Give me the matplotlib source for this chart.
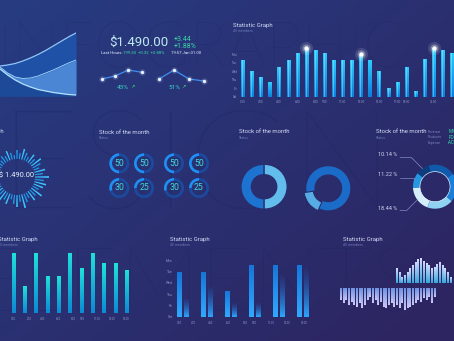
import numpy as np
import matplotlib
matplotlib.use("Agg")
import matplotlib.pyplot as plt
from matplotlib.colors import to_rgb

plt.rcParams["font.family"] = ["Roboto", "DejaVu Sans"]

W, H = 454, 341

# layered area chart, heights above the baseline
area_top = [30, 31, 32.5, 35, 38, 41.5, 45.5, 50, 54.5, 59, 63]
area_mid = [29, 23, 19, 17.5, 18, 20, 23, 26, 29.5, 33, 36]
area_low = [27, 21, 16, 12, 9, 6.5, 5, 3.5, 2.5, 1.5, 1]

price = "$1.490.00"
price_moves = ["+3.44", "+1.88%"]
spark_a = [11, 14, 20, 17.7]
spark_b = [11, 20, 11, 9]
spark_pct = ["43%", "51%"]

days = ["Mon", "Tue", "Wed", "Thu", "Fri", "Sat"]

top_bars = [4.3, 3.0, 2.3, 1.7, 3.5, 4.3, 5.2, 5.7, 5.5, 5.2, 4.3, 4.3,
            4.3, 5.0, 4.3, 3.0, 1.0, 1.7, 3.5, 0.7, 4.4, 5.7, 5.5, 5.2]
top_peaks = [7, 13, 21]
top_ticks = [0, 2, 4, 6, 8, 9, 11, 13, 15, 17, 18, 21]
top_tick_labels = ["0:00", "2:00", "4:00", "6:00", "8:00", "9:00",
                   "11:00", "13:00", "15:00", "17:00", "18:00", "21:00"]

burst_len = [14, 8, 11, 6, 9, 12, 7, 10, 5, 8, 11, 6, 9, 4, 7, 10, 6, 8, 5, 9, 7, 11, 6, 8,
             10, 5, 9, 12, 7, 10, 6, 13, 8, 11, 5, 9, 12, 7, 14, 9, 6, 11, 8, 13, 7, 10, 12, 9]

gauge_vals = [50, 50, 50, 50, 30, 25, 30, 25]
donut_a = [50, 50]
donut_b = [16, 84]
share_vals = [10.14, 11.22, 18.44, 19.3, 21.3, 19.6]
share_colors = ["#0c3e7e", "#2596e0", "#d4eefa", "#8fd2f2", "#1a7fd6", "#0f5aab"]

low_bars = [100, 44, 100, 61, 61, 100, 75, 100, 83, 83, 72]
low_ticks = [0, 1.4, 2.6, 4, 5.3, 6.1, 7.4, 8.7, 10]
low_tick_labels = ["0:00", "2:00", "4:00", "6:00", "8:00", "9:00", "11:00", "13:00", "15:00"]

pair_tall = [3.9, 3.9, 2.3, 4.6, 4.6, 4.6]
pair_short = [1.6, 2.65, 1.2, 1.2, 3.7, 4.3]
pair_ticks = [0, 0.6, 1.32, 2.03, 2.74, 3.15, 3.82, 4.49, 5.2]
pair_tick_labels = ["0:00", "2:00", "4:00", "6:00", "8:00", "9:00", "11:00", "13:00", "15:00"]

wave_up = [15, 11.7, 6.7, 8.3, 11.7, 15, 18.3, 21.7, 24, 25, 22.7, 20, 18.3, 15, 16.7,
           19.3, 21.7, 18.3, 15, 11.7, 6.7]
wave_down = [11.7, 15, 11.7, 16.7, 13.3, 16.7, 18.3, 15, 20, 16.7, 11.7, 8.3, 15, 11.7,
             16.7, 13.3, 18.3, 20, 16.7, 15, 18.3, 16.7, 20, 15, 21.7, 20, 18.3, 16.7, 15,
             11.7, 13.3, 10, 11.7, 8.3, 15, 8.3]

TITLE_C = "#d3daf4"
SUB_C = "#6d7ab6"
TICK_C = "#8b96c6"
GREEN = "#3bd8a8"

fig = plt.figure(figsize=(W / 100, H / 100), dpi=100)


def rect(x0, y0, x1, y1):
    return [x0 / W, 1 - y1 / H, (x1 - x0) / W, (y1 - y0) / H]


def px_axes(x0, y0, x1, y1, **kw):
    ax = fig.add_axes(rect(x0, y0, x1, y1), **kw)
    ax.set_axis_off()
    ax.patch.set_alpha(0)
    return ax


def tick_axes(ax, size=2.2):
    ax.patch.set_alpha(0)
    for s in ax.spines.values():
        s.set_visible(False)
    ax.tick_params(length=0, labelsize=size, labelcolor=TICK_C)


def gradient_bars(ax, xs, hs, width, c_base, c_tip, bottom=0.0, a_base=1.0, a_tip=1.0, z=3):
    bars = ax.bar(xs, hs, width, bottom=bottom, color="none", linewidth=0, zorder=z)
    f = np.linspace(0, 1, 64)[:, None]
    grad = np.ones((64, 1, 4))
    grad[:, 0, :3] = np.array(to_rgb(c_base)) * (1 - f) + np.array(to_rgb(c_tip)) * f
    grad[:, 0, 3] = a_base + (a_tip - a_base) * f[:, 0]
    for b in bars:
        x0, y0 = b.get_x(), b.get_y()
        im = ax.imshow(grad, extent=(x0, x0 + b.get_width(), y0, y0 + b.get_height()),
                       origin="lower", aspect="auto", interpolation="bilinear", zorder=z)
        im.set_clip_path(b)
    return bars


# background gradient, also used as a pixel canvas for text
bg = fig.add_axes([0, 0, 1, 1])
bg.set_axis_off()
yy, xx = np.mgrid[0:1:200j, 0:1:260j]
t = np.clip(0.55 * xx + 0.5 * yy, 0, 1)[..., None]
c0, c1 = np.array(to_rgb("#273c82")), np.array(to_rgb("#2d2561"))
bg.imshow(c0 * (1 - t) + c1 * t, extent=(0, W, H, 0), aspect="auto", interpolation="bilinear")
bg.set_xlim(0, W)
bg.set_ylim(H, 0)


def label(x, y, s, size, color, **kw):
    kw.setdefault("va", "center")
    bg.text(x, y, s, fontsize=size, color=color, **kw)


# faint lettering behind the widgets
mark = dict(alpha=0.3, family=["Lato", "DejaVu Sans"], weight="light", ha="left", zorder=1)
label(-2, 50, "INFOGRAPHIC", 45, "#1a2561", **mark)
label(-105, 170, "DESIGN", 100, "#1a2561", **mark)
label(-30, 287, "ELEMENTS", 65, "#1a2561", **mark)

# ---- layered area chart ----
ax = px_axes(0, 28, 76, 96)
ax_x = np.arange(len(area_top))
ax.fill_between(ax_x, 0, area_top, color="#1f52a6", lw=0)
ax.fill_between(ax_x, area_low, area_mid, color="#4a86d4", lw=0)
ax.fill_between(ax_x, 0, area_low, color="#1c4a98", lw=0)
ax.plot(ax_x, area_top, color="#8fc8ff", lw=0.9)
ax.plot(ax_x, area_mid, color="#a8d8ff", lw=0.6)
ax.plot(ax_x, area_low, color="#b4e2ff", lw=0.9)
ax.set_xlim(0, len(area_top) - 1)
ax.set_ylim(0, 68)

# ---- price block ----
label(109, 42, price, 9.5, "#bfe9f2")
label(174, 39.3, price_moves[0], 5.0, GREEN)
label(174, 46.5, price_moves[1], 5.0, GREEN)
label(101, 52.7, "Last Hours:", 3.1, "#e6ecff")
label(123, 52.7, "199.30  +0.32  +0.88%", 3.1, GREEN)
label(171, 52.7, "19:57 Jan 01.00", 3.1, "#e6ecff")

for vals, x0, x1, pct, px in [(spark_a, 101.7, 141.7, spark_pct[0], 117),
                              (spark_b, 159, 204, spark_pct[1], 168)]:
    ax = px_axes(x0, 60, x1, 90)
    xs = np.arange(len(vals))
    ax.plot(xs, vals, color="#3f8ff0", lw=0.9, zorder=2)
    ax.scatter(xs, vals, s=22, color="#b9d2ff", alpha=0.2, lw=0, clip_on=False, zorder=3)
    ax.scatter(xs, vals, s=6, color="#e8f0ff", lw=0, clip_on=False, zorder=4)
    ax.set_xlim(0, len(vals) - 1)
    ax.set_ylim(0, 30)
    label(px, 87.7, pct, 4.6, "#3ad0c8")
    label(px + 15.5, 86.5, "↗", 3.8, "#35e070", ha="center")

# ---- top-right bar chart ----
label(232.7, 25, "Statistic Graph", 4.3, TITLE_C)
label(232.7, 30.5, "All members", 2.5, SUB_C)
ax = fig.add_axes(rect(238.2, 45.8, 456.4, 96.7))
tick_axes(ax)
idx = np.arange(len(top_bars))
gradient_bars(ax, idx, top_bars, 0.36, "#0b7fdc", "#2fcaff")
ax.bar(idx, top_bars, 0.1, color="#a5ecff", alpha=0.45, linewidth=0, zorder=4)
peak_h = [top_bars[i] for i in top_peaks]
for s, a in [(90, 0.12), (35, 0.3), (10, 1.0)]:
    ax.scatter(top_peaks, peak_h, s=s, color="white", alpha=a, lw=0, zorder=5, clip_on=False)
ax.set_xlim(-0.5, len(top_bars) - 0.5)
ax.set_ylim(0, 6)
ax.set_yticks(range(6), days[::-1])
ax.set_xticks(top_ticks, top_tick_labels)
ax.tick_params(axis="x", pad=2.5)
ax.tick_params(axis="y", pad=0.5)

# ---- radial burst ----
label(3.5, 131, "Statistic Graph", 4.3, TITLE_C, ha="right")
ax = fig.add_axes(rect(17 - 34, 177 - 34, 17 + 34, 177 + 34), projection="polar")
ax.set_axis_off()
ax.patch.set_alpha(0)
theta = np.linspace(0, 2 * np.pi, len(burst_len), endpoint=False)
ray_c = ["#3cc4ff" if v >= 10 else "#1e9ef0" for v in burst_len]
ax.bar(theta, burst_len, width=0.055, bottom=18, color=ray_c, linewidth=0)
ax.set_ylim(0, 34)
label(16.5, 176, "$ 1.490.00", 5.4, "#e4f2ff", ha="center")

# ---- ring gauges ----
label(99, 132.3, "Stock of the month", 4.3, TITLE_C)
label(99, 138.3, "Status", 2.5, SUB_C)
centers = [(119.3, 163.3), (144, 163.3), (174, 163.3), (199, 163.3),
           (119.3, 188), (144, 188), (174, 188), (199, 188)]
for (cx, cy), v in zip(centers, gauge_vals):
    ax = px_axes(cx - 12, cy - 12, cx + 12, cy + 12)
    ax.pie([v, 100 - v], colors=["#1e90f4", "#1c4a9e"], radius=1, startangle=90,
           counterclock=True, wedgeprops=dict(width=0.27, linewidth=0))
    ax.text(0, 0, str(v), ha="center", va="center", fontsize=6.3, color="#3fd9d9")
    ax.set_xlim(-1.2, 1.2)
    ax.set_ylim(-1.2, 1.2)

# ---- two donuts ----
label(239, 131.7, "Stock of the month", 4.3, TITLE_C)
label(239, 137.7, "Status", 2.5, SUB_C)
ax = px_axes(263.3 - 28, 186.7 - 28, 263.3 + 28, 186.7 + 28)
ax.pie(donut_a, colors=["#62bcec", "#1c74d0"], startangle=90, counterclock=False,
       explode=[0.07, 0], wedgeprops=dict(width=0.42, linewidth=0))
ax.set_xlim(-1.29, 1.29)
ax.set_ylim(-1.29, 1.29)

ax = px_axes(328.3 - 28, 188.3 - 28, 328.3 + 28, 188.3 + 28)
ax.pie(donut_b, colors=["#58ace6", "#1a6cc8"], startangle=189, counterclock=True,
       explode=[0.1, 0], wedgeprops=dict(width=0.37, linewidth=0))
ax.set_xlim(-1.27, 1.27)
ax.set_ylim(-1.27, 1.27)

# ---- share donut with callouts ----
label(376, 131.7, "Stock of the month", 4.3, TITLE_C)
label(376, 137.7, "Status", 2.5, SUB_C)
for y, g, c in [(131.7, "Revenue", "MICRO"), (137.3, "Products", "FOCUS"), (142.7, "Expense", "ACTIVE")]:
    label(428, y, g, 2.5, "#7682b8")
    label(448.3, y, c, 3.3, "#2fe0a6")
ax = px_axes(435 - 34, 186.7 - 34, 435 + 34, 186.7 + 34)
wedges, _ = ax.pie(share_vals, colors=share_colors, startangle=106.5, counterclock=True,
                   wedgeprops=dict(width=0.32, linewidth=0))
ax.pie([1], colors=["#e6f3ff"], radius=0.7, wedgeprops=dict(width=0.03, linewidth=0))
ax.set_xlim(-1.545, 1.545)
ax.set_ylim(-1.545, 1.545)
for k, (ty, ang) in enumerate([(155, -45), (175, 90), (208, 45)]):
    w = wedges[k]
    mid = np.deg2rad((w.theta1 + w.theta2) / 2)
    ax.annotate(f"{share_vals[k]:.2f} %", xy=(np.cos(mid), np.sin(mid)),
                xytext=(378, ty), textcoords=bg.transData, fontsize=4, color="#d0d8f0",
                va="center", ha="left",
                arrowprops=dict(arrowstyle="-", color="#7d8bc2", lw=0.5, shrinkA=0, shrinkB=0,
                                relpos=(0, 0), connectionstyle=f"angle,angleA=0,angleB={ang},rad=0"))

# ---- bottom-left bar chart ----
label(-2, 239, "Statistic Graph", 4.3, TITLE_C)
label(-2, 244.5, "All members", 2.5, SUB_C)
ax = fig.add_axes(rect(7.65, 252.7, 132, 312.7))
tick_axes(ax, 2.0)
gradient_bars(ax, np.arange(len(low_bars)), low_bars, 0.27, "#0c8ad4", "#20e2d8")
ax.set_xlim(-0.5, len(low_bars) - 0.5)
ax.set_ylim(0, 100)
ax.set_yticks([])
ax.set_xticks(low_ticks, low_tick_labels)
ax.tick_params(axis="x", pad=2.8)

# ---- bottom-middle paired bars ----
label(170, 240, "Statistic Graph", 4.3, TITLE_C)
label(170, 245.5, "All members", 2.5, SUB_C)
ax = fig.add_axes(rect(174, 260, 320.9, 316.7))
tick_axes(ax, 2.4)
px_ = np.arange(len(pair_tall))
gradient_bars(ax, px_, pair_tall, 0.18, "#32a8ff", "#1576d8")
gradient_bars(ax, px_ + 0.28, pair_short, 0.18, "#2ea6ff", "#1a6fd0", a_base=1.0, a_tip=0.05)
ax.set_xlim(-0.22, 5.9)
ax.set_ylim(0, 5)
ax.set_yticks(range(6), days[::-1])
ax.set_xticks(pair_ticks, pair_tick_labels)
ax.tick_params(axis="x", pad=3, labelsize=2.0)
ax.tick_params(axis="y", pad=1)

# ---- bottom-right wave bars ----
label(343.3, 239.3, "Statistic Graph", 4.3, TITLE_C)
label(343.3, 244.8, "All members", 2.5, SUB_C)
ax = px_axes(338, 256.3, 452.8, 313.3)
up_x = np.arange(len(wave_up)) + 21
gradient_bars(ax, up_x, wave_up, 0.45, "#3aa6dc", "#d8dbff", bottom=5)
gradient_bars(ax, np.arange(len(wave_down)), -np.array(wave_down), 0.45, "#6f92e2", "#cbc8f6")
ax.set_xlim(-1, 42)
ax.set_ylim(-25, 32)

fig.savefig("out.png", dpi=100)
